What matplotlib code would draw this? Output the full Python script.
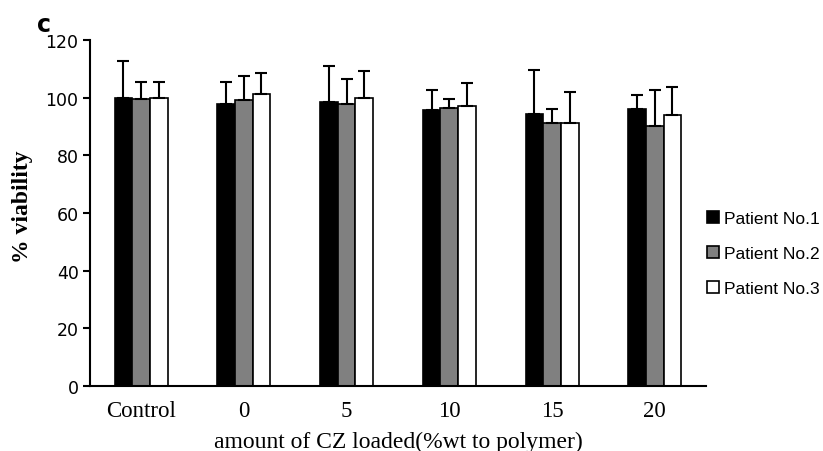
import numpy as np
from matplotlib import pyplot as plt

categories = ['Control', '0', '5', '10', '15', '20']
patients = ['Patient No.1', 'Patient No.2', 'Patient No.3']
# mean viability per patient
p1_mean = [100.0, 98.0, 98.5, 95.8, 94.3, 96.0]
p2_mean = [99.6, 99.2, 97.7, 96.3, 91.1, 90.2]
p3_mean = [99.8, 101.3, 99.9, 97.2, 91.2, 93.9]
# upper error (sd)
p1_err = [12.7, 7.5, 12.6, 6.8, 15.3, 4.9]
p2_err = [5.9, 8.3, 8.8, 3.2, 4.9, 12.5]
p3_err = [5.7, 7.4, 9.4, 7.9, 10.9, 9.7]

means = [p1_mean, p2_mean, p3_mean]
errs = [p1_err, p2_err, p3_err]
colors = ['black', '#808080', 'white']

fig = plt.figure(figsize=(8.23, 4.52), dpi=100)
ax = fig.add_axes([0.109, 0.144, 0.749, 0.765])

x = np.arange(len(categories))
width = 0.172
for i in range(3):
    ax.bar(x + (i - 1) * width, means[i], width, color=colors[i], edgecolor='black',
           linewidth=1.2, label=patients[i],
           yerr=[np.zeros(len(categories)), errs[i]],
           error_kw=dict(ecolor='black', elinewidth=1.5, capsize=4.5, capthick=1.5))

ax.set_xlim(-0.5, 5.5)
ax.set_ylim(0, 120)
ax.set_yticks(np.arange(0, 121, 20))
ax.set_xticks(x)
ax.set_xticklabels(categories, family='Liberation Serif', fontsize=16.5)
for lbl in ax.get_yticklabels():
    lbl.set_family('DejaVu Sans')
    lbl.set_fontsize(12.5)
ax.tick_params(axis='x', length=0, pad=10)
ax.tick_params(axis='y', length=5, width=1.5, direction='out', pad=3)
ax.spines['top'].set_visible(False)
ax.spines['right'].set_visible(False)
ax.spines['left'].set_linewidth(1.5)
ax.spines['bottom'].set_linewidth(1.5)

ax.set_xlabel('amount of CZ loaded(%wt to polymer)', family='Liberation Serif', fontsize=17, labelpad=7)
ax.set_ylabel('% viability', family='Liberation Serif', fontsize=17, fontweight='bold')
ax.yaxis.set_label_coords(-0.092, 0.52)

fig.text(0.045, 0.93, 'c', fontsize=17, fontweight='bold', family='DejaVu Sans')

ax.legend(loc='upper left', bbox_to_anchor=(707 / 823, 1 - 212 / 452), bbox_transform=fig.transFigure,
          frameon=False, prop={'family': 'Liberation Sans', 'size': 12.5},
          borderpad=0, borderaxespad=0,
          handlelength=0.7, handleheight=0.7, handletextpad=0.3, labelspacing=1.15)

plt.savefig('out.png', dpi=100)
